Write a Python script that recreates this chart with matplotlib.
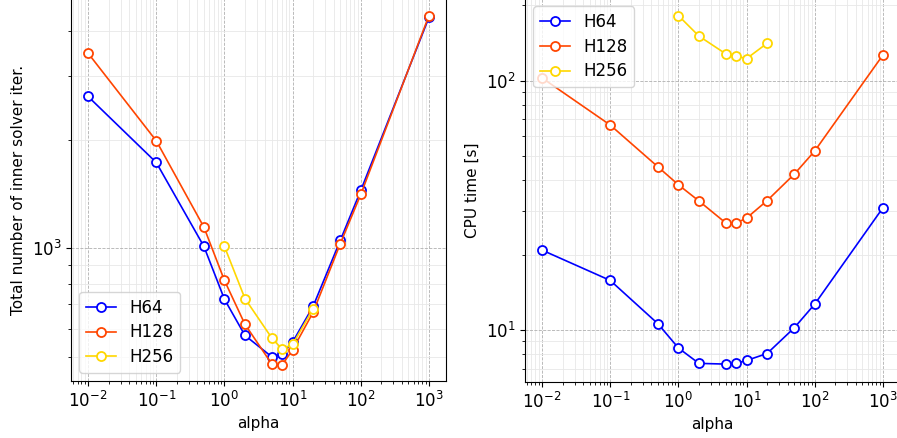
import matplotlib
matplotlib.use("Agg")
import matplotlib.pyplot as plt

# alpha values
alpha = [0.01, 0.1, 0.5, 1, 2, 5, 7, 10, 20, 50, 100, 1000]
alpha_h256 = [1, 2, 5, 7, 10, 20]

# total number of inner solver iterations
iter_h64 = [2630, 1728, 1013, 724, 575, 501, 512, 551, 692, 1052, 1446, 4350]
iter_h128 = [3464, 1984, 1145, 816, 617, 478, 476, 525, 666, 1030, 1410, 4400]
iter_h256 = [1013, 727, 564, 527, 543, 681]

# CPU time [s]
cpu_h64 = [20.9, 15.8, 10.6, 8.47, 7.35, 7.3, 7.35, 7.55, 8.05, 10.2, 12.7, 30.9]
cpu_h128 = [102.4, 66.3, 45.1, 38.2, 32.9, 26.8, 26.8, 28.1, 33.0, 42.1, 52.2, 126.5]
cpu_h256 = [182, 150.7, 127.7, 125.4, 122.4, 141]

labels = ["H64", "H128", "H256"]
colors = ["#0000ff", "#ff4500", "#ffd700"]

fig = plt.figure(figsize=(8.97, 4.38), dpi=100)
ax1 = fig.add_axes([0.0792, 0.130, 0.418, 0.8744])
ax2 = fig.add_axes([0.5853, 0.1283, 0.418, 0.8761])

def trace(ax, xs, ys, loc):
    for x, y, lab, c in zip(xs, ys, labels, colors):
        ax.plot(x, y, "-o", color=c, label=lab, lw=1.2, ms=6.5,
                mfc="white", mew=1.3)
    ax.set_xscale("log")
    ax.set_yscale("log")
    ax.grid(True, which="major", ls="--", color="#b0b0b0", lw=0.6)
    ax.grid(True, which="minor", ls="-", color="#e8e8e8", lw=0.6)
    ax.set_xlabel("alpha", fontsize=11)
    ax.tick_params(labelsize=12)
    ax.legend(loc=loc, fontsize=12, labelspacing=0.4, handlelength=1.8,
              borderaxespad=0.5)

trace(ax1, [alpha, alpha, alpha_h256], [iter_h64, iter_h128, iter_h256], "lower left")
ax1.set_ylabel("Total number of inner solver iter.", fontsize=11)
ax1.set_ylim(430, 4920)

trace(ax2, [alpha, alpha, alpha_h256], [cpu_h64, cpu_h128, cpu_h256], "upper left")
ax2.set_ylabel("CPU time [s]", fontsize=11)
ax2.set_ylim(6.2, 214)

fig.savefig("out.png", dpi=100)
